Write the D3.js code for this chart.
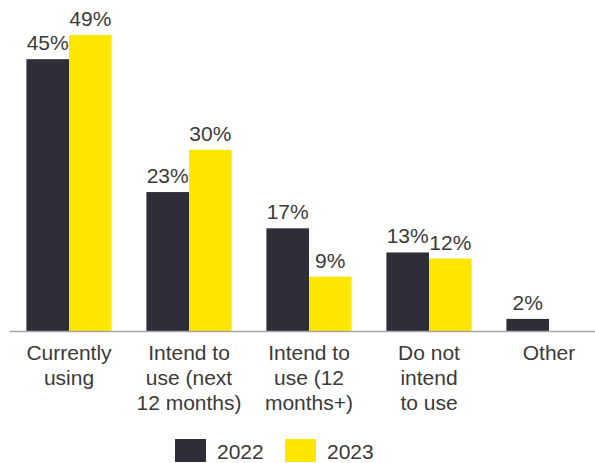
<!DOCTYPE html>
<html>
<head>
<meta charset="utf-8">
<script src="https://cdn.jsdelivr.net/npm/d3@7"></script>
<style>
  body { margin: 0; background: #fff; }
  svg { display: block; font-family: "Liberation Sans", Arial, sans-serif; }
</style>
</head>
<body>
<div class="chart"></div>
<script>
const FRAME_WIDTH = 595;
const FRAME_HEIGHT = 463;

const CATEGORIES = ["Currently using", "Intend to use (next 12 months)", "Intend to use (12 months+)", "Do not intend to use", "Other"];
const CATEGORY_LINES = [
  ["Currently", "using"],
  ["Intend to", "use (next", "12 months)"],
  ["Intend to", "use (12", "months+)"],
  ["Do not", "intend", "to use"],
  ["Other"]
];
const YEARS = ["2022", "2023"];
const VALUES_2022 = [45, 23, 17, 13, 2];
const VALUES_2023 = [49, 30, 9, 12, null];
const COLORS = ["#2e2e38", "#ffe600"];
const TEXT_COLOR = "#3a3a3a";
const FONT_SIZE = "21px";

const BASELINE = 331;

const SVG = d3.select(".chart")
  .append("svg")
  .attr("width", FRAME_WIDTH)
  .attr("height", FRAME_HEIGHT);

const X0 = d3.scaleBand()
  .domain(CATEGORIES)
  .range([9, 609])
  .paddingInner(0.29)
  .paddingOuter(0.145);

const X1 = d3.scaleBand()
  .domain(YEARS)
  .range([0, X0.bandwidth()]);

const Y_SCALE = d3.scaleLinear()
  .domain([0, 49])
  .range([BASELINE, BASELINE - 296]);

const rows = [];
CATEGORIES.forEach((c, i) => {
  rows.push({cat: c, year: "2022", value: VALUES_2022[i]});
  rows.push({cat: c, year: "2023", value: VALUES_2023[i]});
});
const data = rows.filter(d => d.value !== null);

// bars
SVG.selectAll("rect.bar")
  .data(data)
  .enter()
  .append("rect")
    .attr("class", "bar")
    .attr("x", d => X0(d.cat) + X1(d.year))
    .attr("y", d => Y_SCALE(d.value))
    .attr("width", X1.bandwidth())
    .attr("height", d => BASELINE - Y_SCALE(d.value))
    .attr("fill", d => COLORS[YEARS.indexOf(d.year)]);

// value labels
SVG.selectAll("text.val")
  .data(data)
  .enter()
  .append("text")
    .attr("class", "val")
    .attr("x", d => X0(d.cat) + X1(d.year) + X1.bandwidth() / 2)
    .attr("y", d => Y_SCALE(d.value) - 9)
    .attr("text-anchor", "middle")
    .attr("font-size", FONT_SIZE)
    .attr("fill", TEXT_COLOR)
    .text(d => d.value + "%");

// x axis
const AXIS = SVG.append("g")
  .attr("transform", "translate(0," + BASELINE + ")")
  .call(d3.axisBottom(X0).tickSize(0).tickSizeOuter(0));

AXIS.select(".domain")
  .attr("stroke", "#a6a6a6")
  .attr("stroke-width", 1.5);

AXIS.selectAll(".tick text").each(function(d, i) {
  const t = d3.select(this);
  t.text(null)
    .attr("y", 0)
    .attr("dy", null)
    .attr("font-size", FONT_SIZE)
    .attr("font-family", "Liberation Sans, Arial, sans-serif")
    .attr("fill", TEXT_COLOR);
  CATEGORY_LINES[i].forEach((line, j) => {
    t.append("tspan")
      .attr("x", 0)
      .attr("y", 29 + j * 25)
      .text(line);
  });
});

// legend
const LEGEND_X = [175, 285];
const legend = SVG.selectAll("g.legend")
  .data(YEARS)
  .enter()
  .append("g")
    .attr("class", "legend")
    .attr("transform", (d, i) => "translate(" + LEGEND_X[i] + ",439)");

legend.append("rect")
  .attr("width", 31)
  .attr("height", 23)
  .attr("fill", (d, i) => COLORS[i]);

legend.append("text")
  .attr("x", 42)
  .attr("y", 20)
  .attr("font-size", FONT_SIZE)
  .attr("fill", TEXT_COLOR)
  .text(d => d);
</script>
</body>
</html>
